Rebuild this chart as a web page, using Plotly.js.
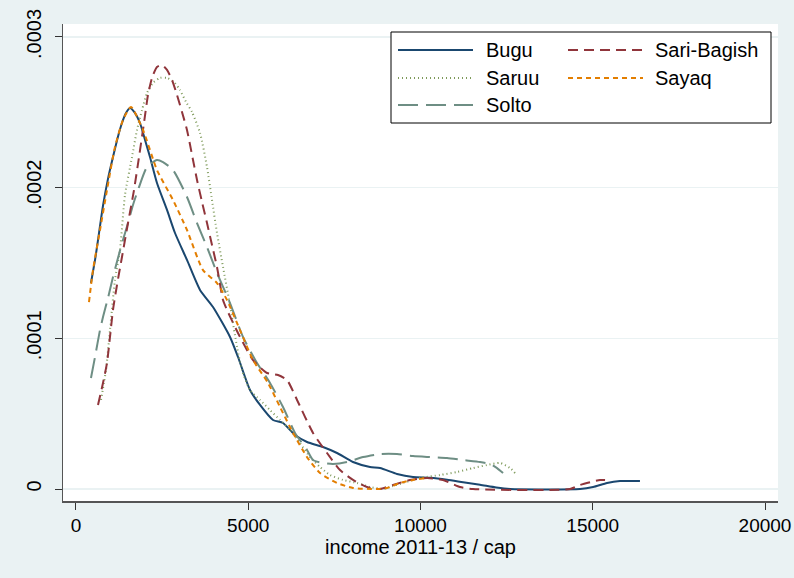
<!DOCTYPE html>
<html><head><meta charset="utf-8">
<script src="https://cdn.plot.ly/plotly-3.0.1.min.js"></script>
<style>html,body{margin:0;padding:0;background:#EAF2F3;}#chart{width:794px;height:578px;}</style>
</head><body><div id="chart"></div>
<script>
// Kernel density of income 2011-13 / cap by group
const buguX = [435, 560, 639, 784, 930, 1074, 1220, 1335, 1450, 1567, 1700, 1858, 2000, 2148, 2351, 2642, 2874, 3222, 3600, 3977, 4471, 4703, 5051, 5342, 5719, 6009, 6358, 6706, 7170, 7577, 8041, 8535, 8825, 9319, 9783, 10277, 10770, 11235, 11728, 12200, 12600, 14630, 15010, 15415, 15790, 16370];
const buguY = [0.0001367, 0.0001530, 0.0001652, 0.0001880, 0.0002060, 0.0002203, 0.0002340, 0.0002429, 0.0002495, 0.0002529, 0.0002500, 0.0002429, 0.0002320, 0.0002203, 0.0002031, 0.0001852, 0.0001699, 0.000152, 0.0001321, 0.0001208, 0.0001009, 0.0000876, 0.0000657, 0.0000558, 0.0000458, 0.0000438, 0.0000358, 0.0000312, 0.0000279, 0.0000239, 0.0000179, 0.0000146, 0.0000139, 0.00001, 0.000008, 0.0000075, 0.0000062, 0.0000045, 0.0000028, 0.000001, 0, 0, 0.0000013, 0.000004, 0.0000053, 0.0000053];

const saruuX = [726, 871, 987, 1132, 1277, 1422, 1626, 1771, 1916, 2061, 2235, 2439, 2642, 2845, 3019, 3193, 3368, 3600, 3803, 3948, 4093, 4268, 4471, 4674, 4819, 5051, 5342, 5632, 5922, 6213, 6503, 6793, 7083, 7374, 7751, 8157, 8535, 8912, 9203, 9493, 9987, 10567, 11061, 11525, 11931, 12309, 12599, 12744];
const saruuY = [0.0000591, 0.000079, 0.0001055, 0.0001387, 0.0001586, 0.0001951, 0.0002203, 0.0002383, 0.0002515, 0.0002628, 0.0002695, 0.0002728, 0.0002728, 0.0002701, 0.0002648, 0.0002569, 0.0002502, 0.0002363, 0.0002137, 0.0001918, 0.0001699, 0.0001473, 0.0001221, 0.0000942, 0.000079, 0.0000657, 0.0000591, 0.0000524, 0.0000458, 0.0000392, 0.0000305, 0.0000212, 0.0000146, 0.0000093, 0.000006, 0.000004, 0.0000013, 0, 0.000002, 0.000004, 0.0000073, 0.0000093, 0.0000113, 0.0000139, 0.0000159, 0.0000173, 0.0000139, 0.0000106];

const soltoX = [435, 552, 697, 784, 929, 1074, 1219, 1364, 1510, 1655, 1800, 2061, 2351, 2526, 2816, 3222, 3513, 3803, 4093, 4471, 4848, 5255, 5632, 6009, 6358, 6706, 6880, 7170, 7461, 7867, 8332, 8825, 9319, 9783, 10277, 10770, 11235, 11728, 12018, 12222, 12396];
const soltoY = [0.0000737, 0.0000876, 0.0001055, 0.0001142, 0.0001268, 0.0001407, 0.0001533, 0.0001653, 0.0001765, 0.0001885, 0.0001984, 0.0002137, 0.0002184, 0.000217, 0.0002117, 0.0001938, 0.0001765, 0.0001606, 0.0001434, 0.0001234, 0.0001009, 0.0000836, 0.0000704, 0.0000544, 0.0000372, 0.0000259, 0.0000192, 0.0000173, 0.0000166, 0.0000179, 0.0000212, 0.0000232, 0.0000232, 0.0000219, 0.0000212, 0.0000206, 0.0000192, 0.0000179, 0.0000166, 0.0000139, 0.0000106];

const sariX = [639, 784, 900, 987, 1074, 1190, 1335, 1510, 1684, 1829, 1974, 2090, 2206, 2351, 2497, 2642, 2787, 2932, 3077, 3222, 3368, 3513, 3658, 3803, 3948, 4093, 4268, 4384, 4761, 5138, 5545, 5864, 6125, 6416, 6880, 7287, 7664, 8041, 8448, 8825, 9203, 9696, 10190, 10654, 11148, 11525, 14341, 14631, 15212, 15357];
const sariY = [0.0000558, 0.0000704, 0.0000836, 0.0001009, 0.0001188, 0.0001354, 0.000154, 0.0001765, 0.0001984, 0.0002203, 0.0002429, 0.0002615, 0.0002728, 0.0002801, 0.0002814, 0.0002781, 0.0002715, 0.0002615, 0.0002502, 0.0002383, 0.0002217, 0.0002051, 0.0001905, 0.0001765, 0.0001619, 0.0001473, 0.0001254, 0.0001188, 0.0001009, 0.0000856, 0.000077, 0.0000757, 0.0000723, 0.0000591, 0.0000372, 0.0000239, 0.0000126, 0.000006, 0.0000013, 0, 0.0000027, 0.000006, 0.0000073, 0.000006, 0.0000013, 0, 0, 0.0000027, 0.000006, 0.000006];

const sayaqX = [377, 494, 697, 900, 1132, 1364, 1597, 1945, 2351, 2816, 3222, 3687, 4093, 4384, 4761, 5138, 5574, 5922, 6300, 6706, 7083, 7577, 8041, 8738, 9029, 9406, 9783, 10132];
const sayaqY = [0.0001241, 0.0001453, 0.0001719, 0.0001984, 0.000227, 0.0002449, 0.0002535, 0.0002383, 0.0002117, 0.0001918, 0.0001719, 0.0001453, 0.0001367, 0.0001254, 0.0001055, 0.0000856, 0.0000704, 0.0000544, 0.0000372, 0.0000212, 0.0000106, 0.000004, 0.0000007, 0, 0.0000007, 0.000004, 0.000006, 0.0000073];

const groups = ['Bugu', 'Saruu', 'Solto', 'Sari-Bagish', 'Sayaq'];
const xTicks = [0, 5000, 10000, 15000, 20000];
const xTickText = ['0', '5000', '10000', '15000', '20000'];
const yTicks = [0, 0.0001, 0.0002, 0.0003];
const yTickText = ['0', '.0001', '.0002', '.0003'];

const styles = {
  'Bugu':        {color: '#1A476F', dash: 'solid'},
  'Saruu':       {color: '#7E9A5A', dash: '1px,3px'},
  'Solto':       {color: '#6E8E84', dash: '20px,8px'},
  'Sari-Bagish': {color: '#90353B', dash: '10px,6px'},
  'Sayaq':       {color: '#E37E00', dash: '5px,4px'}
};
const seriesData = {
  'Bugu': [buguX, buguY], 'Saruu': [saruuX, saruuY], 'Solto': [soltoX, soltoY],
  'Sari-Bagish': [sariX, sariY], 'Sayaq': [sayaqX, sayaqY]
};

const traces = groups.map(g => ({
  type: 'scatter', mode: 'lines', name: g,
  x: seriesData[g][0], y: seriesData[g][1],
  line: {color: styles[g].color, dash: styles[g].dash, width: 2, shape: 'spline', smoothing: 0.6},
  hoverinfo: 'skip'
}));

// Manual legend (Stata-style, two columns, column-first order)
const W = 715, H = 477, L = 63, B = 501;
const px = v => (v - L) / W;
const py = v => (B - v) / H;
const legendPos = {
  'Bugu': [398, 473, 484, 50],
  'Saruu': [398, 473, 484, 78],
  'Solto': [398, 473, 484, 105],
  'Sari-Bagish': [568, 643, 653, 50],
  'Sayaq': [568, 643, 653, 78]
};
const shapes = [{
  type: 'rect', xref: 'paper', yref: 'paper',
  x0: px(391), x1: px(771), y0: py(123), y1: py(32),
  fillcolor: '#FFFFFF', line: {color: '#000000', width: 1}
}];
const annotations = [];
groups.forEach(g => {
  const p = legendPos[g];
  shapes.push({type: 'line', xref: 'paper', yref: 'paper', x0: px(p[0]), x1: px(p[1]), y0: py(p[3]), y1: py(p[3]),
    line: {color: styles[g].color, dash: styles[g].dash, width: 2}});
  annotations.push({xref: 'paper', yref: 'paper', x: px(p[2]), y: py(p[3]), xanchor: 'left', yanchor: 'middle',
    text: g, showarrow: false, font: {size: 20, color: '#000'}});
});

const layout = {
  width: 794, height: 578,
  paper_bgcolor: '#EAF2F3', plot_bgcolor: '#FFFFFF',
  margin: {l: 63, r: 16, t: 24, b: 77},
  showlegend: false,
  font: {family: '"Liberation Sans", Arial, sans-serif', color: '#000', size: 19},
  xaxis: {
    range: [-377, 20377], tickvals: xTicks, ticktext: xTickText,
    showgrid: false, zeroline: false, showline: true, linecolor: '#555', linewidth: 1.5,
    ticks: 'outside', ticklen: 7, tickcolor: '#333', tickwidth: 1, tickfont: {size: 19},
    title: {text: 'income 2011-13 / cap', font: {size: 20}, standoff: 3}
  },
  yaxis: {
    range: [-0.00000796, 0.0003086], tickvals: yTicks, ticktext: yTickText, tickangle: -90,
    showgrid: true, gridcolor: '#EAF2F3', gridwidth: 1.5, zeroline: false,
    showline: true, linecolor: '#555', linewidth: 1.5,
    ticks: 'outside', ticklen: 7, tickcolor: '#333', tickwidth: 1, tickfont: {size: 20},
    ticklabelstandoff: 6
  },
  shapes: shapes, annotations: annotations
};

Plotly.newPlot('chart', traces, layout, {displayModeBar: false, staticPlot: true});
</script></body></html>
